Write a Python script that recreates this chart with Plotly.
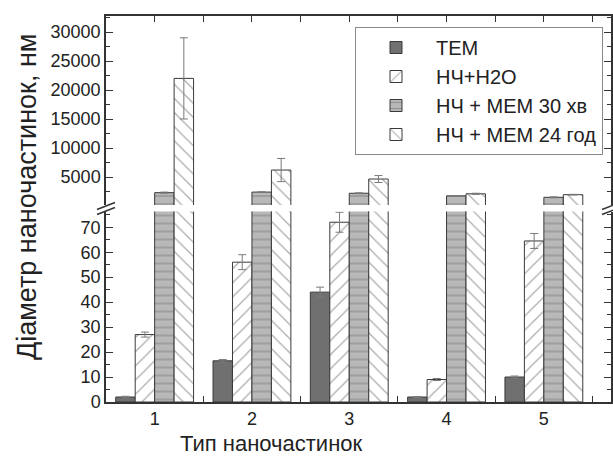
import plotly.graph_objects as go

categories = [1, 2, 3, 4, 5]
series_names = ["TEM", "НЧ+H2O", "НЧ + МЕМ 30 хв", "НЧ + МЕМ 24 год"]
tem = [2, 16.5, 44, 2, 10]
tem_err = [0.3, 0.5, 2, 0.2, 0.4]
h2o = [27, 56, 72, 9, 64.5]
h2o_err = [1, 3, 4, 0.4, 3]
mem30 = [2300, 2400, 2200, 1750, 1500]
mem30_err = [100, 50, 80, 60, 80]
mem24 = [22000, 6200, 4650, 2100, 1950]
mem24_err = [7000, 2000, 600, 100, 60]

x_tick_labels = ["1", "2", "3", "4", "5"]
upper_ticks = [5000, 10000, 15000, 20000, 25000, 30000]
upper_tick_labels = ["5000", "10000", "15000", "20000", "25000", "30000"]
lower_ticks = [0, 10, 20, 30, 40, 50, 60, 70]
lower_tick_labels = ["0", "10", "20", "30", "40", "50", "60", "70"]

FONT = "Liberation Sans, Arial, sans-serif"
OUTLINE = "#3a3a3a"
ERRC = "#7a7a7a"
TXT = "#222222"

styles = [
    dict(color="#707070", pattern=None),
    dict(color="white", pattern=dict(shape="/", fgcolor="#555555", bgcolor="white", size=10, solidity=0.12)),
    dict(color="#b8b8b8", pattern=dict(shape="-", fgcolor="#5a5a5a", bgcolor="#b8b8b8", size=8, solidity=0.14)),
    dict(color="white", pattern=dict(shape="\\", fgcolor="#555555", bgcolor="white", size=10, solidity=0.12)),
]
vals = [tem, h2o, mem30, mem24]
errs = [tem_err, h2o_err, mem30_err, mem24_err]

fig = go.Figure()

def marker_for(i):
    m = dict(color=styles[i]["color"], line=dict(color=OUTLINE, width=1))
    if styles[i]["pattern"] is not None:
        m["pattern"] = styles[i]["pattern"]
    return m

# lower panel: all series
for i in range(4):
    fig.add_trace(go.Bar(
        x=categories, y=vals[i], name=series_names[i],
        marker=marker_for(i),
        error_y=dict(type="data", array=errs[i], color=ERRC, thickness=1, width=4),
        xaxis="x", yaxis="y", legendgroup=str(i), showlegend=True,
    ))
# upper panel
for i in range(4):
    fig.add_trace(go.Bar(
        x=categories, y=vals[i], name=series_names[i],
        marker=marker_for(i),
        error_y=dict(type="data", array=errs[i], color=ERRC, thickness=1, width=4,
                     visible=(i >= 2)),
        xaxis="x2", yaxis="y2", legendgroup=str(i), showlegend=False,
    ))

L, R, T, B = 106, 2, 16, 60
W, H = 613, 462
pw = W - L - R
ph = H - T - B

def px(xp):
    return (xp - L) / pw

def py(yp):
    return (H - B - yp) / ph

lower_top = py(211.5)
upper_bot = py(205)

axis_common = dict(showline=True, linecolor="#333333", linewidth=1.5, showgrid=False,
                   zeroline=False, automargin=False,
                   tickfont=dict(family=FONT, size=18, color=TXT),
                   ticks="inside", ticklen=7, tickcolor="#333333", tickwidth=1.2)

shapes = []
for xc in (106, 611):
    for dy in (-2.5, 2.5):
        shapes.append(dict(type="line", xref="paper", yref="paper",
                           x0=px(xc - 9), y0=py(212 + dy), x1=px(xc + 9), y1=py(205 + dy),
                           line=dict(color="#333333", width=1.5)))

fig.update_layout(
    width=W, height=H,
    margin=dict(l=L, r=R, t=T, b=B, autoexpand=False),
    paper_bgcolor="white", plot_bgcolor="white",
    barmode="group", bargap=0.2, bargroupgap=0,
    font=dict(family=FONT, color=TXT),
    showlegend=True,
    legend=dict(x=px(603), xanchor="right", y=py(27), yanchor="top",
                bgcolor="white", bordercolor="#888888", borderwidth=1,
                font=dict(family=FONT, size=20, color=TXT),
                traceorder="grouped", tracegroupgap=0, itemwidth=70),
    xaxis=dict(axis_common, anchor="y", range=[0.5, 5.69], domain=[0, 1],
               tickvals=categories, ticktext=x_tick_labels, ticks="",
               minor=dict(tickvals=[1.5, 2.5, 3.5, 4.5, 5.5], ticks="inside", ticklen=6,
                          tickcolor="#333333")),
    xaxis2=dict(axis_common, anchor="y2", matches="x", side="top", showticklabels=False,
                tickvals=[1, 1.5, 2, 2.5, 3, 3.5, 4, 4.5, 5, 5.5], ticklen=6),
    yaxis=dict(axis_common, anchor="x", domain=[0, lower_top], range=[0, 76.3],
               tickvals=lower_ticks, ticktext=lower_tick_labels, mirror="allticks",
               minor=dict(dtick=5, ticks="inside", ticklen=4, tickcolor="#333333")),
    yaxis2=dict(axis_common, anchor="x2", domain=[upper_bot, 1], range=[172, 32760],
                tickvals=upper_ticks, ticktext=upper_tick_labels, mirror="allticks",
                minor=dict(dtick=2500, ticks="inside", ticklen=4, tickcolor="#333333")),
    shapes=shapes,
)

fig.add_annotation(text="Діаметр наночастинок, нм", xref="paper", yref="paper",
                   x=px(27), y=py(197), textangle=-90, showarrow=False,
                   xanchor="center", yanchor="middle",
                   font=dict(family=FONT, size=27, color=TXT))
fig.add_annotation(text="Тип наночастинок", xref="paper", yref="paper",
                   x=px(271), y=py(443), showarrow=False,
                   xanchor="center", yanchor="middle",
                   font=dict(family=FONT, size=22, color=TXT))

fig.write_html("out.html", config={"displayModeBar": False},
               post_script="document.body.style.margin='0px';document.body.style.padding='0px';")
